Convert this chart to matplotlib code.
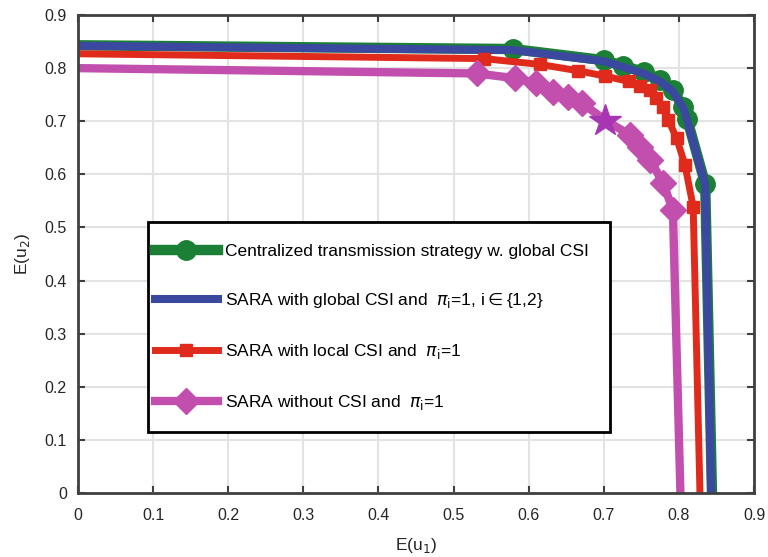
import matplotlib
matplotlib.use("Agg")
import matplotlib.pyplot as plt
from matplotlib.patches import Rectangle

# Centralized transmission strategy w. global CSI
cen_u1 = [0.0, 0.579, 0.700, 0.726, 0.753, 0.775, 0.792, 0.806, 0.811, 0.835, 0.844]
cen_u2 = [0.843, 0.836, 0.815, 0.804, 0.793, 0.778, 0.758, 0.727, 0.704, 0.582, 0.0]
cen_marked = [1, 2, 3, 4, 5, 6, 7, 8, 9]

# SARA with global CSI
glob_u1 = [0.0, 0.579, 0.700, 0.726, 0.753, 0.775, 0.792, 0.806, 0.811, 0.835, 0.843]
glob_u2 = [0.842, 0.834, 0.813, 0.802, 0.790, 0.775, 0.756, 0.725, 0.702, 0.580, 0.0]

# SARA with local CSI
loc_u1 = [0.0, 0.540, 0.615, 0.666, 0.702, 0.733, 0.748, 0.761, 0.770, 0.779,
          0.786, 0.797, 0.808, 0.819, 0.828]
loc_u2 = [0.827, 0.818, 0.807, 0.795, 0.785, 0.775, 0.766, 0.758, 0.743, 0.727,
          0.702, 0.668, 0.618, 0.539, 0.0]
loc_marked = list(range(1, 14))

# SARA without CSI
no_u1 = [0.0, 0.531, 0.582, 0.610, 0.633, 0.653, 0.671, 0.702, 0.735, 0.748,
         0.762, 0.779, 0.792, 0.802]
no_u2 = [0.800, 0.790, 0.781, 0.772, 0.756, 0.746, 0.734, 0.702, 0.674, 0.652,
         0.627, 0.583, 0.533, 0.0]
no_marked = [1, 2, 3, 4, 5, 6, 8, 9, 10, 11, 12]
star_u1, star_u2 = 0.702, 0.700

ticks = [0, 0.1, 0.2, 0.3, 0.4, 0.5, 0.6, 0.7, 0.8, 0.9]
tick_labels = ["0", "0.1", "0.2", "0.3", "0.4", "0.5", "0.6", "0.7", "0.8", "0.9"]

GREEN = "#1b8035"
BLUE = "#3a48a0"
RED = "#e02b1c"
MAGENTA = "#c24fae"
STAR = "#a836b4"

plt.rcParams["font.family"] = ["Liberation Sans", "DejaVu Sans"]

fig = plt.figure(figsize=(7.68, 5.57), dpi=100)
ax = fig.add_axes([0.1016, 0.115, 0.8802, 0.858])

ax.plot(cen_u1, cen_u2, color=GREEN, lw=7.5, marker="o", markersize=14,
        markevery=cen_marked, solid_joinstyle="round",
        label="Centralized transmission strategy w. global CSI")
ax.plot(glob_u1, glob_u2, color=BLUE, lw=5.8,
        label=r"SARA with global CSI and  $\pi_{\rm i}$=1, i$\in${1,2}")
ax.plot(loc_u1, loc_u2, color=RED, lw=5, marker="s", markersize=9,
        markevery=loc_marked, label=r"SARA with local CSI and  $\pi_{\rm i}$=1")
ax.plot(no_u1, no_u2, color=MAGENTA, lw=6, marker="D", markersize=13,
        markevery=no_marked, label=r"SARA without CSI and  $\pi_{\rm i}$=1")
ax.plot([star_u1], [star_u2], color=STAR, marker="*", markersize=24,
        linestyle="none", zorder=5)

ax.set_xlim(0, 0.9)
ax.set_ylim(0, 0.9)
ax.set_xticks(ticks)
ax.set_xticklabels(tick_labels)
ax.set_yticks(ticks)
ax.set_yticklabels(tick_labels)
ax.grid(True, color="#e3e3e3", lw=1.5)
ax.set_axisbelow(True)
ax.tick_params(direction="in", length=5, width=1.5, colors="#404040",
               labelcolor="#262626", labelsize=11.5, top=True, right=True)
ax.tick_params(axis="x", pad=11)
ax.tick_params(axis="y", pad=8)
for sp in ax.spines.values():
    sp.set_color("#404040")
    sp.set_linewidth(2)

ax.set_xlabel(r"E(u$_1$)", fontsize=12.5, color="#262626", labelpad=9)
ax.set_ylabel(r"E(u$_2$)", fontsize=12.5, color="#262626", labelpad=9)

# legend frame drawn separately so the rows can be spaced like the original
ax.add_patch(Rectangle((0.1036, 0.128), 0.684, 0.439, transform=ax.transAxes,
                       facecolor="white", edgecolor="black", lw=2, zorder=6))
leg = ax.legend(loc="upper left", bbox_to_anchor=(0.114, 0.522), frameon=False,
                fontsize=12.5, handlelength=3.6, handletextpad=0.4,
                labelspacing=1.85, borderpad=0, borderaxespad=0)
leg.set_zorder(7)

fig.savefig("out.png", dpi=100)
